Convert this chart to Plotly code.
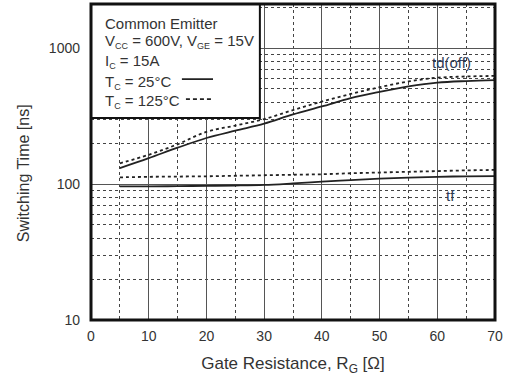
import plotly.graph_objects as go

# Data
rg = [5, 10, 15, 20, 25, 30, 35, 40, 45, 50, 55, 60, 65, 70]
td_off_25 = [131, 155, 185, 218, 247, 278, 325, 372, 428, 476, 522, 557, 572, 580]
td_off_125 = [142, 164, 196, 242, 269, 300, 350, 404, 460, 515, 568, 605, 618, 624]
tf_25 = [96, 96, 96.5, 97, 97.5, 98.5, 101, 104, 107, 109.5, 111.5, 113, 114, 114.5]
tf_125 = [112, 113, 113.5, 114, 115, 116, 117, 118, 120, 121.5, 123, 124.5, 126, 127]

x_ticks = [0, 10, 20, 30, 40, 50, 60, 70]
y_ticks = [10, 100, 1000]

FONT = "Liberation Sans, Arial, sans-serif"
TXT = "#333"
LINE = "#222"

fig = go.Figure()
for y, dash in [(td_off_25, "solid"), (td_off_125, "3px,3px"), (tf_25, "solid"), (tf_125, "3px,3px")]:
    fig.add_trace(go.Scatter(x=rg, y=y, mode="lines", line=dict(color=LINE, width=1.8, dash=dash, shape="spline"),
                             showlegend=False, hoverinfo="skip"))

fig.update_layout(
    width=506, height=381,
    margin=dict(l=91, r=11, t=4, b=61),
    paper_bgcolor="white", plot_bgcolor="white",
    font=dict(family=FONT, size=14, color=TXT),
    showlegend=False,
)
fig.update_xaxes(
    range=[0, 70], tickvals=x_ticks, ticks="", showline=False, zeroline=False,
    showgrid=True, gridcolor="#555", gridwidth=1,
    minor=dict(dtick=5, tick0=0, showgrid=True, gridcolor="#444", griddash="dot", gridwidth=1),
    tickfont=dict(size=14, color=TXT), ticklabelstandoff=6,
    title=dict(text="Gate Resistance, R<sub>G</sub> [Ω]", font=dict(size=17, color=TXT), standoff=14),
)
fig.update_yaxes(
    type="log", range=[1, 3.324], tickvals=y_ticks, ticktext=[str(v) for v in y_ticks], ticks="",
    showline=False, zeroline=False,
    showgrid=True, gridcolor="#555", gridwidth=1,
    minor=dict(dtick="D1", showgrid=True, gridcolor="#444", griddash="dot", gridwidth=1),
    tickfont=dict(size=14, color=TXT), ticklabelstandoff=10,
)

# y axis title (placed slightly below centre, as in the reference)
fig.add_annotation(text="Switching Time [ns]", xref="paper", yref="paper", x=-0.168, y=0.465,
                   xanchor="center", yanchor="middle", textangle=-90, showarrow=False,
                   font=dict(size=16, color=TXT, family=FONT))

# legend box
fig.add_shape(type="rect", xref="paper", yref="paper", x0=0, x1=0.418, y0=0.639, y1=1,
              fillcolor="white", line=dict(color="#111", width=2), layer="above")
# plot border
fig.add_shape(type="rect", xref="paper", yref="paper", x0=0, x1=1, y0=0, y1=1,
              line=dict(color="#111", width=3), layer="above")
# legend line samples
fig.add_shape(type="line", xref="paper", yref="paper", x0=0.225, x1=0.302, y0=0.762, y1=0.762,
              line=dict(color=LINE, width=1.8), layer="above")
fig.add_shape(type="line", xref="paper", yref="paper", x0=0.235, x1=0.302, y0=0.699, y1=0.699,
              line=dict(color=LINE, width=1.8, dash="4px,3px"), layer="above")

SUB = "<sub><span style='font-size:9px'>{}</span></sub>"
legend_lines = [
    ("Common Emitter", 0.937),
    ("V" + SUB.format("CC") + " = 600V, V" + SUB.format("GE") + " = 15V", 0.880),
    ("I" + SUB.format("C") + " = 15A", 0.817),
    ("T" + SUB.format("C") + " = 25°C", 0.753),
    ("T" + SUB.format("C") + " = 125°C", 0.692),
]
for text, yy in legend_lines:
    fig.add_annotation(text=text, xref="paper", yref="paper", x=0.0297, y=yy, xanchor="left", yanchor="middle",
                       showarrow=False, font=dict(size=15, color=TXT, family=FONT))

fig.add_annotation(text="td(off)", x=62.5, y=2.897, xref="x", yref="y", showarrow=False,
                   font=dict(size=15, color="#2e3b55", family=FONT))
fig.add_annotation(text="tf", x=62.3, y=1.912, xref="x", yref="y", showarrow=False,
                   font=dict(size=15, color="#2e3b55", family=FONT))

fig.write_html("out.html")
